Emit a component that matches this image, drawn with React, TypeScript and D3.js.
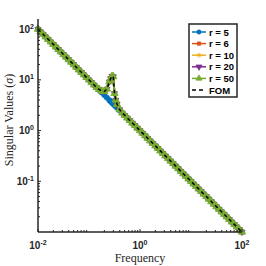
import React from 'react';
import * as d3 from 'd3';

// frequency grid (log spaced, extra points around the resonance)
const freq = [
  0.01, 0.0112, 0.0126, 0.0141, 0.0158, 0.0178, 0.02, 0.0224, 0.0251, 0.0282,
  0.0316, 0.0355, 0.0398, 0.0447, 0.0501, 0.0562, 0.0631, 0.0708, 0.0794, 0.0891,
  0.1, 0.112, 0.126, 0.141, 0.158, 0.178, 0.2, 0.224, 0.251, 0.266, 0.282, 0.299, 0.316, 0.335, 0.355, 0.398, 0.447, 0.501, 0.562, 0.631, 0.708, 0.794, 0.891,
  1, 1.12, 1.26, 1.41, 1.58, 1.78, 2, 2.24, 2.51, 2.82, 3.16, 3.55, 3.98, 4.47, 5.01, 5.62, 6.31, 7.08, 7.94, 8.91,
  10, 11.2, 12.6, 14.1, 15.8, 17.8, 20, 22.4, 25.1, 28.2, 31.6, 35.5, 39.8, 44.7, 50.1, 56.2, 63.1, 70.8, 79.4, 89.1, 100,
];

// r = 5 misses the resonance peak
const sigmaR5 = [
  100, 89.1, 79.4, 70.8, 63.1, 56.2, 50.1, 44.7, 39.8, 35.5,
  31.6, 28.2, 25.1, 22.4, 20.0, 17.8, 15.8, 14.1, 12.6, 11.2,
  10, 8.91, 7.94, 7.08, 6.31, 5.62, 5.01, 4.47, 3.98, 3.76, 3.55, 3.35, 3.16, 2.99, 2.82, 2.51, 2.24, 2.0, 1.78, 1.58, 1.41, 1.26, 1.12,
  1, 0.891, 0.794, 0.708, 0.631, 0.562, 0.501, 0.447, 0.398, 0.355, 0.316, 0.282, 0.251, 0.224, 0.2, 0.178, 0.158, 0.141, 0.126, 0.112,
  0.1, 0.0891, 0.0794, 0.0708, 0.0631, 0.0562, 0.0501, 0.0447, 0.0398, 0.0355, 0.0316, 0.0282, 0.0251, 0.0224, 0.02, 0.0178, 0.0158, 0.0141, 0.0126, 0.0112, 0.01,
];

// r >= 6 and the full order model share these values
const sigmaFull = [
  100, 89.1, 79.4, 70.8, 63.1, 56.2, 50.1, 44.7, 39.8, 35.5,
  31.6, 28.2, 25.1, 22.4, 20.0, 17.8, 15.8, 14.1, 12.6, 11.2,
  10, 8.91, 7.94, 7.08, 6.5, 6.0, 5.9, 6.6, 9.2, 10.6, 11.8, 11.6, 5.4, 4.0, 3.3, 2.6, 2.24, 2.0, 1.78, 1.58, 1.41, 1.26, 1.12,
  1, 0.891, 0.794, 0.708, 0.631, 0.562, 0.501, 0.447, 0.398, 0.355, 0.316, 0.282, 0.251, 0.224, 0.2, 0.178, 0.158, 0.141, 0.126, 0.112,
  0.1, 0.0891, 0.0794, 0.0708, 0.0631, 0.0562, 0.0501, 0.0447, 0.0398, 0.0355, 0.0316, 0.0282, 0.0251, 0.0224, 0.02, 0.0178, 0.0158, 0.0141, 0.0126, 0.0112, 0.01,
];

const seriesLabels = ['r = 5', 'r = 6', 'r = 10', 'r = 20', 'r = 50'];
const seriesValues = [sigmaR5, sigmaFull, sigmaFull, sigmaFull, sigmaFull];
const fomLabel = 'FOM';
const xTickExp = [-2, 0, 2];
const yTickExp = [-1, 0, 1, 2];

const colors = ['#0072BD', '#D95319', '#EDB120', '#7E2F8E', '#77AC30'];
const markers = ['circle', 'square', 'asterisk', 'down', 'up'];

const W = 266;
const H = 266;
const left = 38;
const right = 242;
const top = 19;
const bottom = 232;

const Marker: React.FC<{ kind: string; x: number; y: number; color: string; big?: boolean }> = ({ kind, x, y, color, big }) => {
  const k = big ? 1.5 : 1;
  if (kind === 'circle') {
    return <path d={d3.symbol(d3.symbolCircle, 15 * k)()!} transform={`translate(${x},${y})`} fill={color} stroke={color} strokeWidth={0.6} />;
  }
  if (kind === 'square') {
    return <path d={d3.symbol(d3.symbolSquare, 12 * k)()!} transform={`translate(${x},${y})`} fill={color} stroke={color} strokeWidth={0.6} />;
  }
  if (kind === 'asterisk') {
    return <path d={d3.symbol(d3.symbolAsterisk, 16 * k)()!} transform={`translate(${x},${y})`} fill="none" stroke={color} strokeWidth={1} />;
  }
  const rot = kind === 'down' ? 180 : 0;
  return <path d={d3.symbol(d3.symbolTriangle, 16 * k)()!} transform={`translate(${x},${y}) rotate(${rot})`} fill={color} stroke={color} strokeWidth={0.8} />;
};

export default function App() {
  const x = d3.scaleLog().domain([0.01, 100]).range([left, right]);
  const y = d3.scaleLog().domain([0.01, Math.pow(10, 2.2)]).range([bottom, top]);

  const line = d3.line<number>()
    .x((_, i) => x(freq[i]))
    .y(d => y(d));

  const minorX: number[] = [];
  for (let e = -2; e < 2; e++) for (let m = 2; m <= 9; m++) minorX.push(m * Math.pow(10, e));
  const minorY: number[] = [];
  for (let e = -2; e <= 2; e++) for (let m = 2; m <= 9; m++) {
    const v = m * Math.pow(10, e);
    if (v <= Math.pow(10, 2.2)) minorY.push(v);
  }

  const tickFont = "'Liberation Sans', Arial, sans-serif";
  const serif = "'Liberation Serif', 'Times New Roman', serif";

  const legX = 189;
  const legY = 24;
  const legRow = 11.6;

  return (
    <svg width={W} height={H} style={{ position: 'absolute', left: 0, top: 0, background: '#fff' }}>
      <rect width={W} height={H} fill="#fff" />

      {/* series */}
      {seriesValues.map((vals, s) => (
        <g key={s}>
          <path d={line(vals)!} fill="none" stroke={colors[s]} strokeWidth={2} />
          {vals.map((v, i) => (
            <Marker key={i} kind={markers[s]} x={x(freq[i])} y={y(v)} color={colors[s]} big={s === 4 || s === 0} />
          ))}
        </g>
      ))}
      <path d={line(sigmaFull)!} fill="none" stroke="#000" strokeWidth={1.5} strokeDasharray="3.5,3" />

      {/* axes */}
      <line x1={left} x2={right} y1={bottom} y2={bottom} stroke="#262626" strokeWidth={1.5} />
      <line x1={left} x2={left} y1={top} y2={bottom} stroke="#262626" strokeWidth={1.5} />
      {minorX.map((v, i) => (
        <line key={'mx' + i} x1={x(v)} x2={x(v)} y1={bottom} y2={bottom - 2} stroke="#262626" strokeWidth={1} />
      ))}
      {xTickExp.map(e => (
        <line key={'Mx' + e} x1={x(Math.pow(10, e))} x2={x(Math.pow(10, e))} y1={bottom} y2={bottom - 3} stroke="#262626" strokeWidth={1} />
      ))}
      {minorY.map((v, i) => (
        <line key={'my' + i} x1={left} x2={left + 2} y1={y(v)} y2={y(v)} stroke="#262626" strokeWidth={1} />
      ))}
      {yTickExp.map(e => (
        <line key={'My' + e} x1={left} x2={left + 3} y1={y(Math.pow(10, e))} y2={y(Math.pow(10, e))} stroke="#262626" strokeWidth={1} />
      ))}

      {/* tick labels */}
      {xTickExp.map(e => (
        <text key={'tx' + e} x={x(Math.pow(10, e))} y={249} textAnchor="middle" fontFamily={tickFont} fontWeight="bold" fontSize={10} fill="#262626">
          10<tspan dy={-4} fontSize={7}>{e}</tspan>
        </text>
      ))}
      {yTickExp.map(e => (
        <text key={'ty' + e} x={34} y={y(Math.pow(10, e)) + 3.5} textAnchor="end" fontFamily={tickFont} fontWeight="bold" fontSize={10} fill="#262626">
          10<tspan dy={-4} fontSize={7}>{e}</tspan>
        </text>
      ))}

      {/* axis labels */}
      <text x={140} y={262} textAnchor="middle" fontFamily={serif} fontSize={12} fill="#262626">Frequency</text>
      <text transform="translate(13,120) rotate(-90)" textAnchor="middle" fontFamily={serif} fontSize={12} fill="#262626">
        Singular Values (<tspan fontStyle="italic">σ</tspan>)
      </text>

      {/* legend */}
      <rect x={legX} y={legY} width={48} height={73} fill="#fff" stroke="#262626" strokeWidth={1.5} />
      {seriesLabels.map((lab, s) => {
        const ly = legY + 8 + s * legRow;
        return (
          <g key={'leg' + s}>
            <line x1={legX + 3} x2={legX + 17} y1={ly} y2={ly} stroke={colors[s]} strokeWidth={1.5} />
            <Marker kind={markers[s]} x={legX + 10} y={ly} color={colors[s]} />
            <text x={legX + 20} y={ly + 3.5} fontFamily={tickFont} fontWeight="bold" fontSize={9.5} fill="#000">{lab}</text>
          </g>
        );
      })}
      <line x1={legX + 3} x2={legX + 17} y1={legY + 8 + 5 * legRow} y2={legY + 8 + 5 * legRow} stroke="#000" strokeWidth={1.5} strokeDasharray="4,3" />
      <text x={legX + 20} y={legY + 8 + 5 * legRow + 3.5} fontFamily={tickFont} fontWeight="bold" fontSize={9.5} fill="#000">{fomLabel}</text>
    </svg>
  );
}
